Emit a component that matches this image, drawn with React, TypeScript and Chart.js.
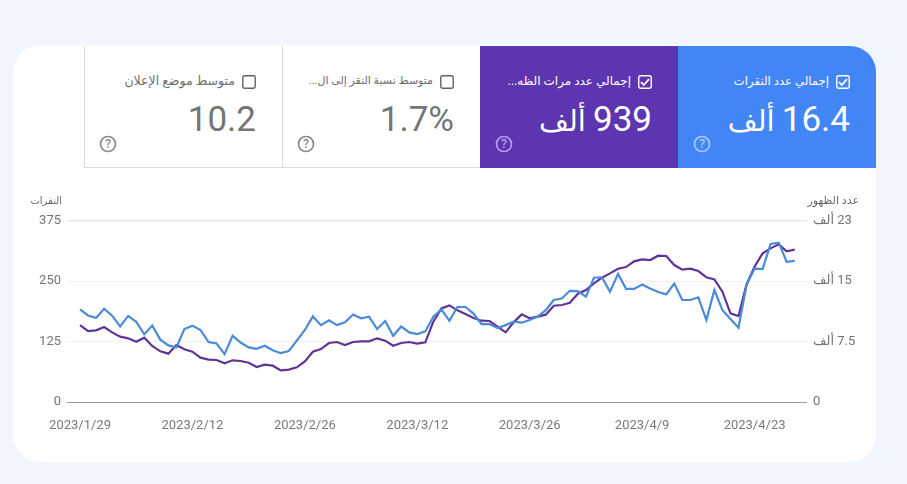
import React, { useEffect, useRef } from "react";
import { Chart, registerables } from "chart.js";

Chart.register(...registerables);

const clicks = [191.6,179,174,193,178.5,156.5,178,166,140,158,129,117,113,151,158,149,124,121,99,137,123,113,110,116.5,107,101,105.5,127,149,177,159,169,159,165,181,173,176.5,151,167.5,137,156,144,140.5,146,176.5,191.6,168,196.5,196.5,183,161,161,153,159,166,164,169.5,176.5,190,211,214,230,229.5,218,257,258,228,265,234,234,243,235,227.5,222.6,245,211,211,216.5,169.5,231.6,190,171.6,153.7,242,276,275,327,329.5,290,292];
const impressions = [9554,8810,8892,9306,8644,8107,7900,7486,7982,6948,6287,5997,7073,6535,6245,5501,5253,5211,4798,5170,5087,4880,4343,4632,4508,3929,4012,4301,5046,6245,6576,7321,7445,7073,7445,7528,7528,7900,7610,6990,7321,7445,7238,7403,9968,11622,11994,11374,10919,10423,10092,10050,9347,8644,9885,10878,10381,10588,10836,11953,12036,12325,13442,13897,14724,15427,15965,16544,16751,17454,17702,17619,18157,18116,16999,16420,16544,16254,15469,15220,13690,11002,10671,14600,16792,18447,19067,19563,18695,18901];
const dateTickIndex = [0,14,28,42,56,70,84];
const dateTickLabels = ["2023/1/29","2023/2/12","2023/2/26","2023/3/12","2023/3/26","2023/4/9","2023/4/23"];
const rightTickLabels: Record<number,string> = {0:"0",7500:"7.5 ألف",15000:"15 ألف",22500:"23 ألف"};

const FONT = "Roboto, 'Noto Sans', 'DejaVu Sans', sans-serif";

const tiles = [
  { left: 678, width: 198, bg: "#4285f4", fg: "#fff", help: "#a9c9fb", label: "إجمالي عدد النقرات", labelSize: 11.7, value: "16.4", unit: "ألف", checked: true },
  { left: 480, width: 198, bg: "#5e35b1", fg: "#fff", help: "#b99bec", label: "إجمالي عدد مرات الظه...", labelSize: 12, value: "939", unit: "ألف", checked: true },
  { left: 282, width: 198, bg: "#fff", fg: "#757575", help: "#8a8a8a", label: "متوسط نسبة النقر إلى ال...", labelSize: 11, value: "1.7%", unit: "", checked: false },
  { left: 84, width: 198, bg: "#fff", fg: "#757575", help: "#8a8a8a", label: "متوسط موضع الإعلان", labelSize: 12.5, value: "10.2", unit: "", checked: false },
];

function Tile({ t }: { t: (typeof tiles)[number] }) {
  const boxColor = t.checked ? "#fff" : "#5f6368";
  return (
    <div style={{ position: "absolute", left: t.left, top: 46, width: t.width, height: 122, background: t.bg, boxSizing: "border-box",
      borderTopRightRadius: t.left === 678 ? 26 : 0,
      borderLeft: t.checked ? "none" : "1px solid #dcdcdc", borderBottom: t.checked ? "none" : "1px solid #dcdcdc" }}>
      <svg width="14" height="14" viewBox="0 0 14 14" style={{ position: "absolute", right: 26, top: 29 }}>
        <rect x="0.75" y="0.75" width="12.5" height="12.5" rx="2" fill="none" stroke={boxColor} strokeWidth="1.4" />
        {t.checked && <path d="M3 7.2 L5.8 10 L11 4.2" fill="none" stroke="#fff" strokeWidth="1.8" />}
      </svg>
      <div dir="rtl" style={{ position: "absolute", right: 47, top: 26, fontSize: t.labelSize, lineHeight: "18px", color: t.checked ? "#fff" : "#6e6e6e", whiteSpace: "nowrap", fontFamily: FONT }}>{t.label}</div>
      <div dir="rtl" style={{ position: "absolute", right: 26, top: 52, fontSize: 35, lineHeight: "44px", color: t.fg, whiteSpace: "nowrap", fontFamily: FONT }}>
        {t.value}
        {t.unit && <span style={{ fontSize: 29 }}>{" " + t.unit}</span>}
      </div>
      <svg width="18" height="18" viewBox="0 0 18 18" style={{ position: "absolute", left: t.checked ? 14.5 : 13.5, top: 89 }}>
        <circle cx="9" cy="9" r="7.5" fill="none" stroke={t.help} strokeWidth="1.7" />
        <text x="9" y="13.2" textAnchor="middle" fontSize="12.5" fontWeight="500" fontFamily={FONT} fill={t.help}>?</text>
      </svg>
    </div>
  );
}

export default function App() {
  const ref = useRef<HTMLCanvasElement>(null);
  useEffect(() => {
    if (!ref.current) return;
    const setWidth = (w: number) => (s: any) => { s.width = w; };
    const chart = new Chart(ref.current, {
      type: "line",
      data: {
        datasets: [
          { label: "النقرات", data: clicks.map((y, x) => ({ x, y })), borderColor: "#4a8ad9", borderWidth: 2.2, pointRadius: 0, tension: 0, yAxisID: "y", clip: false },
          { label: "عدد الظهور", data: impressions.map((y, x) => ({ x, y })), borderColor: "#5e3596", borderWidth: 2.2, pointRadius: 0, tension: 0, yAxisID: "y1", clip: false },
        ],
      },
      options: {
        animation: false,
        responsive: false,
        layout: { padding: { top: 220.7, left: 0, right: 0, bottom: 0 } },
        plugins: { legend: { display: false }, tooltip: { enabled: false }, title: { display: false } },
        scales: {
          x: {
            type: "linear", min: -1.62, max: 90.53,
            afterBuildTicks: (s: any) => { s.ticks = dateTickIndex.map((value) => ({ value })); },
            afterFit: (s: any) => { s.height = 82; },
            grid: { display: false },
            border: { display: false },
            ticks: {
              autoSkip: false, maxRotation: 0, padding: 8,
              color: "#7a7a7a", font: { family: "Roboto", size: 13 },
              callback: (v: any) => dateTickLabels[dateTickIndex.indexOf(Number(v))] ?? "",
            },
          },
          y: {
            position: "left", min: 0, max: 375,
            afterFit: setWidth(67),
            border: { display: false },
            grid: {
              drawTicks: false,
              lineWidth: (c: any) => (c.tick.value === 375 ? 1.6 : 1),
              color: (c: any) => (c.tick.value === 0 ? "#9b9b9b" : c.tick.value === 375 ? "#e8e8e8" : "#f0f0f0"),
            },
            ticks: { stepSize: 125, padding: 6, color: "#757575", font: { family: "Roboto", size: 13 } },
          },
          y1: {
            position: "right", min: 0, max: 22500,
            afterFit: setWidth(100),
            border: { display: false },
            grid: { display: false, drawTicks: false },
            ticks: {
              stepSize: 7500, padding: 6, color: "#757575", font: { family: FONT, size: 13 },
              callback: (v: any) => rightTickLabels[Number(v)] ?? "",
            },
          },
        },
      },
    } as any);
    return () => chart.destroy();
  }, []);
  return (
    <div style={{ position: "absolute", left: 0, top: 0, width: 907, height: 484, background: "#f1f5fd", overflow: "hidden" }}>
      <div style={{ position: "absolute", left: 13, top: 45, width: 863, height: 417, background: "#fff", borderRadius: 27 }} />
      {tiles.map((t) => <Tile key={t.left} t={t} />)}
      <canvas ref={ref} width={907} height={484} style={{ position: "absolute", left: 0, top: 0, width: 907, height: 484, direction: "rtl" }} />
      <div dir="rtl" style={{ position: "absolute", right: 845, top: 194, fontSize: 10, lineHeight: "14px", color: "#666", fontFamily: FONT }}>النقرات</div>
      <div dir="rtl" style={{ position: "absolute", right: 48, top: 194, fontSize: 11, lineHeight: "14px", color: "#666", fontFamily: FONT }}>عدد الظهور</div>
    </div>
  );
}
